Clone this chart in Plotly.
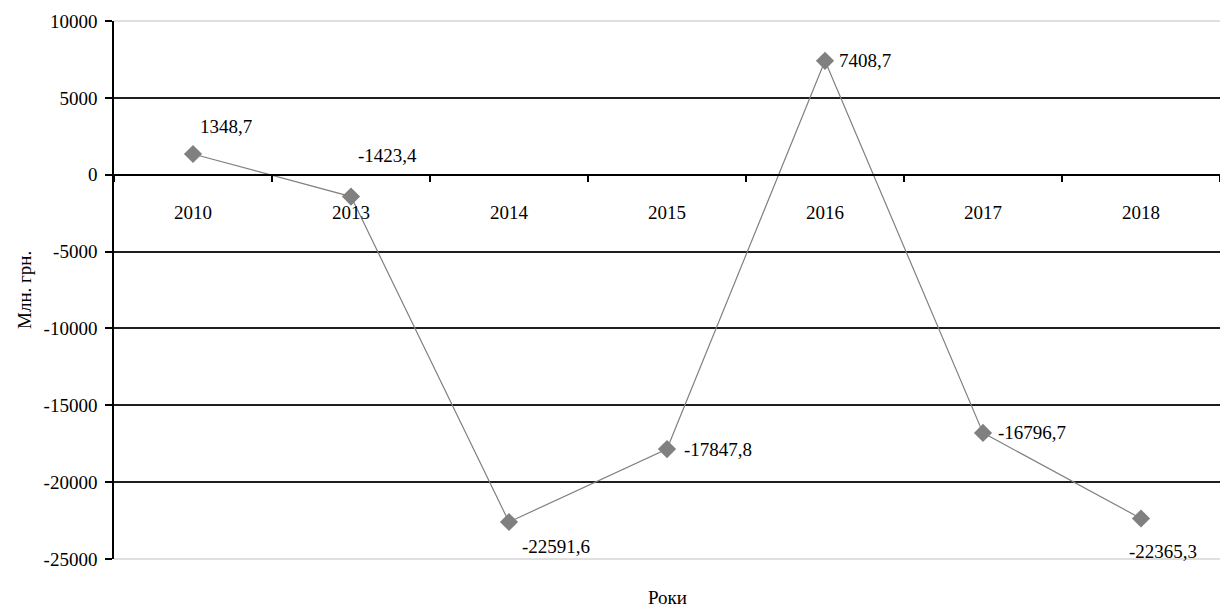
import plotly.graph_objects as go

years = ["2010", "2013", "2014", "2015", "2016", "2017", "2018"]
values = [1348.7, -1423.4, -22591.6, -17847.8, 7408.7, -16796.7, -22365.3]
y_ticks = [10000, 5000, 0, -5000, -10000, -15000, -20000, -25000]
y_title = "Млн. грн."
x_title = "Роки"

# label offsets in pixels (style only): (xshift, yshift)
label_offsets = [(33, 27), (36, 41), (47, -25), (51, 0), (40, 0), (49, 0), (22, -33)]

FONT = "Liberation Serif"
FS = 19
GRAY = "#808080"

def fmt(v):
    return f"{v:.1f}".replace(".", ",")

fig = go.Figure()
fig.add_trace(go.Scatter(
    x=years, y=values, mode="lines+markers",
    line=dict(color=GRAY, width=1.2),
    marker=dict(symbol="diamond", size=14, color=GRAY),
    hoverinfo="skip", showlegend=False,
))

ymin, ymax = -25000, 10000
zero_pos = (0 - ymin) / (ymax - ymin)

annotations = []
for i, (v, (dx, dy)) in enumerate(zip(values, label_offsets)):
    annotations.append(dict(
        x=i, y=v, xref="x", yref="y", text=fmt(v), showarrow=False,
        xanchor="center", yanchor="middle", xshift=dx, yshift=dy,
        font=dict(family=FONT, size=FS, color="black"),
    ))
annotations.append(dict(
    x=0.5, y=0, xref="paper", yref="paper", text=x_title, showarrow=False,
    yshift=-38, yanchor="middle",
    font=dict(family=FONT, size=FS, color="black"),
))
annotations.append(dict(
    x=0, y=0.5, xref="paper", yref="paper", text=y_title, showarrow=False,
    textangle=-90, xanchor="center", yanchor="middle", xshift=-90,
    font=dict(family=FONT, size=FS, color="black"),
))

fig.update_layout(
    width=1220, height=611,
    margin=dict(l=114, r=0, t=21, b=52),
    paper_bgcolor="white", plot_bgcolor="white",
    font=dict(family=FONT, size=FS, color="black"),
    annotations=annotations,
    shapes=[
        dict(type="line", xref="paper", yref="paper", x0=0, x1=1, y0=1, y1=1,
             line=dict(color="#d4d4d4", width=1.5), layer="above"),
        dict(type="line", xref="paper", yref="paper", x0=0, x1=1, y0=0, y1=0,
             line=dict(color="#d4d4d4", width=1.5), layer="above"),
    ],
    xaxis=dict(
        type="category", range=[-0.5, len(years) - 0.5],
        anchor="free", position=zero_pos,
        showline=True, linecolor="black", linewidth=1.5,
        ticks="outside", tickson="boundaries", ticklen=7, tickcolor="black", tickwidth=1.5,
        ticklabelstandoff=21,
        showgrid=False, zeroline=False,
        tickfont=dict(family=FONT, size=FS, color="black"),
    ),
    yaxis=dict(
        range=[ymin, ymax], tickvals=y_ticks, ticktext=[str(t) for t in y_ticks],
        showline=True, linecolor="black", linewidth=1.5,
        ticks="outside", ticklen=7, tickcolor="black", tickwidth=1.5,
        ticklabelstandoff=4,
        showgrid=True, gridcolor="#1e1e1e", gridwidth=1.5,
        zeroline=False,
        tickfont=dict(family=FONT, size=FS, color="black"),
    ),
)

fig.write_html("out.html")
